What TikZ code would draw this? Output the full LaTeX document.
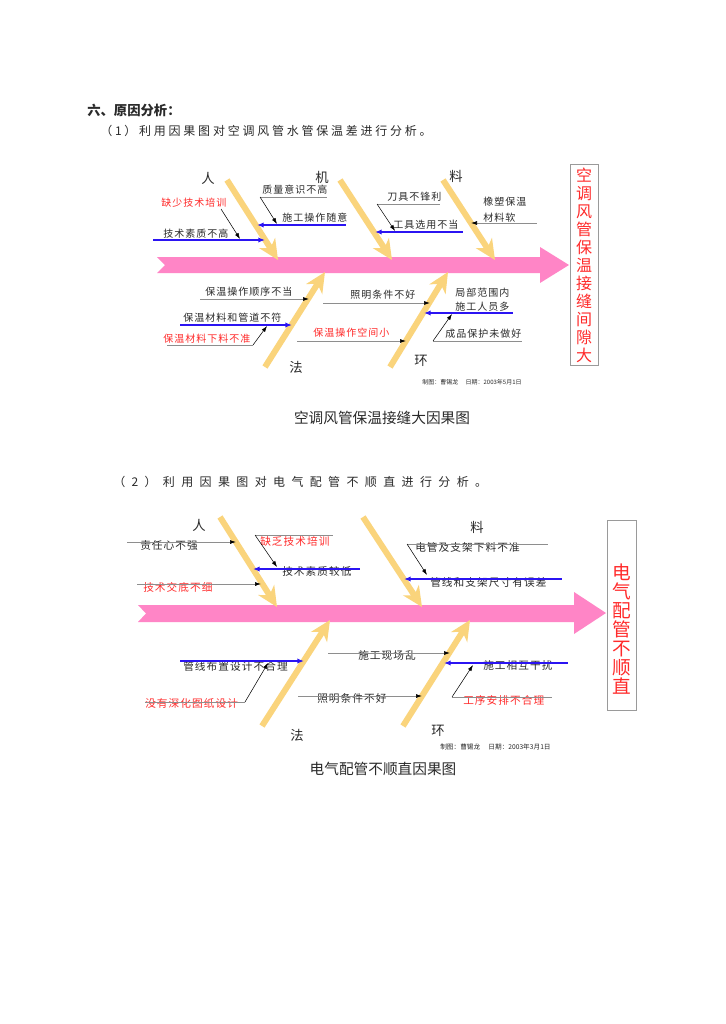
\documentclass[tikz,border=0pt]{standalone}
\usepackage{fontspec}
\newfontfamily\cjk{Noto Sans CJK SC}
\newfontfamily\cjkcause[LetterSpace=10]{Noto Sans CJK SC}
\newfontfamily\cjktask[LetterSpace=23]{Noto Sans CJK SC}
\newfontfamily\cjktaskb[LetterSpace=53]{Noto Sans CJK SC}
\usetikzlibrary{arrows.meta,positioning}
\definecolor{spinepink}{HTML}{FF85C6}
\definecolor{bonegold}{HTML}{FAD47C}
\definecolor{causeblue}{HTML}{2B14F2}
\definecolor{causered}{HTML}{FF2B2B}
\definecolor{ink}{HTML}{2A2A2A}
\definecolor{leadgray}{HTML}{8E8E8E}
\definecolor{boxgray}{HTML}{9A9A9A}
\tikzset{
  spine/.style={fill=spinepink, draw=none},
  bone/.style={
    draw=bonegold,
    line width=4.5pt,
    -{Stealth[length=15pt,width=14pt,inset=4.5pt]}
  },
  cat/.style={font=\cjk\fontsize{10}{12}\selectfont},
  cause/.style={anchor=west, font=\cjkcause\fontsize{7.5}{10}\selectfont},
  causeb/.style={anchor=west, font=\cjkcause\fontsize{8}{10}\selectfont},
  redcause/.style={text=causered},
  blueline/.style={
    draw=causeblue,
    line width=1.8pt,
    >={Latex[length=5pt,width=4pt]}
  },
  grayline/.style={
    draw=leadgray,
    line width=0.5pt,
    >={Latex[length=4.5pt,width=3pt,color=black]}
  },
  leader/.style={
    draw=black,
    line width=0.4pt,
    >={Latex[length=4.5pt,width=3pt]},
    ->
  },
  effect/.style={
    draw=boxgray,
    line width=0.6pt,
    inner sep=0pt
  },
  effecttext/.style={
    align=center,
    text=causered,
    inner sep=0pt
  },
  sig/.style={anchor=west, font=\cjk\fontsize{4.5}{5}\selectfont},
  caption/.style={font=\cjk\fontsize{11}{13}\selectfont}
}

\begin{document}
\begin{tikzpicture}[x=0.75pt, y=-0.75pt, every node/.style={text=ink, inner sep=0pt}]
\fill[white] (0,0) rectangle (725,1024);
\useasboundingbox (0,0) rectangle (725,1024);

% ---- Headings ----
\node[anchor=west, font=\cjk\bfseries\fontsize{10}{12}\selectfont] (title) at (87,110) {六、原因分析：};
\node[anchor=west, font=\cjktask\fontsize{9}{11}\selectfont] (task1) at (100,131)
  {（1）利用因果图对空调风管水管保温差进行分析。};

% ==== Diagram 1 ====
% spine
\fill[spine] (157,257) -- (540,257) -- (540,247) -- (569,265) -- (540,283)
  -- (540,273) -- (157,273) -- (165,265) -- cycle;

% bones
\coordinate (ren1s) at (227,180);  \coordinate (ren1e) at (278,260);
\coordinate (ji1s)  at (340,180);  \coordinate (ji1e)  at (392,260);
\coordinate (liao1s) at (443,180); \coordinate (liao1e) at (495,260);
\coordinate (fa1s)  at (265,367);  \coordinate (fa1e)  at (325,272);
\coordinate (huan1s) at (390,367); \coordinate (huan1e) at (448,272);
\draw[bone] (ren1s) -- (ren1e);
\draw[bone] (ji1s) -- (ji1e);
\draw[bone] (liao1s) -- (liao1e);
\draw[bone] (fa1s) -- (fa1e);
\draw[bone] (huan1s) -- (huan1e);

% categories
\node[cat] (ren1) at (208,178) {人};
\node[cat] (ji1) at (322,177) {机};
\node[cat] (liao1) at (456,176) {料};
\node[cat] (fa1) at (296,367) {法};
\node[cat] (huan1) at (421,361) {环};

% effect
\node[effect, minimum width=21pt, minimum height=150.75pt] (effect1) at (584,264.5) {};
\node[effecttext, font=\cjk\fontsize{12}{13.5}\selectfont]
  (effect1txt) at (584,265) {空\\调\\风\\管\\保\\温\\接\\缝\\间\\隙\\大};

% causes: 人
\node[cause, redcause] (a1) at (161,203) {缺少技术培训};
\node[cause] (a2) at (163,234) {技术素质不高};
\coordinate (a2s) at (153,240); \coordinate (a2e) at (265,240);
\draw[blueline, ->] (a2s) -- (a2e);
\coordinate (a1l) at (221,209); \coordinate (a1t) at (240,239);
\draw[leader] (a1l) -- (a1t);

\node[cause] (a3) at (262,190) {质量意识不高};
\coordinate (a3s) at (260,197); \coordinate (a3u) at (327,197);
\draw[grayline] (a3s) -- (a3u);
\node[cause] (a4) at (282,218) {施工操作随意};
\coordinate (a4s) at (257,225); \coordinate (a4e) at (346,225);
\draw[blueline, <-] (a4s) -- (a4e);
\coordinate (a3t) at (277,224);
\draw[leader] (a3s) -- (a3t);

% causes: 机
\node[cause] (b1) at (387,197) {刀具不锋利};
\coordinate (b1s) at (377,204); \coordinate (b1u) at (440,204);
\draw[grayline] (b1s) -- (b1u);
\node[cause] (b2) at (393,225) {工具选用不当};
\coordinate (b2s) at (375,232); \coordinate (b2e) at (463,232);
\draw[blueline, <-] (b2s) -- (b2e);
\coordinate (b1t) at (395,231);
\draw[leader] (b1s) -- (b1t);

% causes: 料
\node[cause, anchor=north west, align=left, font=\cjkcause\fontsize{7.5}{12}\selectfont]
  (c1) at (483,197) {橡塑保温\\材料软};
\coordinate (c1s) at (471,223); \coordinate (c1e) at (537,223);
\draw[grayline, <-] (c1s) -- (c1e);

% causes: 法
\node[cause] (d1) at (205,292) {保温操作顺序不当};
\coordinate (d1s) at (200,299); \coordinate (d1e) at (309,299);
\draw[grayline, ->] (d1s) -- (d1e);
\node[cause] (d2) at (183,318) {保温材料和管道不符};
\coordinate (d2s) at (180,325); \coordinate (d2e) at (292,325);
\draw[blueline, ->] (d2s) -- (d2e);
\node[cause, redcause] (d3) at (163,339) {保温材料下料不准};
\coordinate (d3s) at (167,345); \coordinate (d3u) at (253,345);
\coordinate (d3t) at (267,326);
\draw[grayline] (d3s) -- (d3u);
\draw[leader] (d3u) -- (d3t);

% causes: 环
\node[cause] (e1) at (350,295) {照明条件不好};
\coordinate (e1s) at (323,303); \coordinate (e1e) at (430,303);
\draw[grayline, ->] (e1s) -- (e1e);
\node[cause, redcause] (e2) at (313,333) {保温操作空间小};
\coordinate (e2s) at (297,341); \coordinate (e2e) at (406,341);
\draw[grayline, ->] (e2s) -- (e2e);
\node[cause, anchor=north west, align=left, font=\cjkcause\fontsize{7.5}{10}\selectfont]
  (e3) at (455,288) {局部范围内\\施工人员多};
\coordinate (e3s) at (424,313); \coordinate (e3e) at (513,313);
\draw[blueline, <-] (e3s) -- (e3e);
\node[cause] (e4) at (445,334) {成品保护未做好};
\coordinate (e4s) at (433,341); \coordinate (e4u) at (522,341);
\coordinate (e4t) at (452,314);
\draw[grayline] (e4s) -- (e4u);
\draw[leader] (e4s) -- (e4t);

\node[sig] (sig1) at (422,382) {制图：曹锡龙　 日期：2003年5月1日};
\node[caption] (cap1) at (382,418) {空调风管保温接缝大因果图};

% ==== Diagram 2 ====
\node[anchor=west, font=\cjktaskb\fontsize{9}{11}\selectfont] (task2) at (113,482)
  {（2）利用因果图对电气配管不顺直进行分析。};

% spine
\fill[spine] (138,605) -- (574,605) -- (574,592) -- (606,613) -- (574,634)
  -- (574,622) -- (138,622) -- (146,613.5) -- cycle;

% bones
\coordinate (ren2s) at (220,517);  \coordinate (ren2e) at (277,607);
\coordinate (liao2s) at (363,517); \coordinate (liao2e) at (422,607);
\coordinate (fa2s) at (262,726);   \coordinate (fa2e) at (330,620);
\coordinate (huan2s) at (403,726); \coordinate (huan2e) at (470,620);
\draw[bone] (ren2s) -- (ren2e);
\draw[bone] (liao2s) -- (liao2e);
\draw[bone] (fa2s) -- (fa2e);
\draw[bone] (huan2s) -- (huan2e);

\node[cat] (ren2) at (199,525) {人};
\node[cat] (liao2) at (477,527) {料};
\node[cat] (fa2) at (297,735) {法};
\node[cat] (huan2) at (438,731) {环};

\node[effect, minimum width=21.75pt, minimum height=142.5pt] (effect2) at (621.5,615) {};
\node[effecttext, font=\cjk\fontsize{14}{14.25}\selectfont]
  (effect2txt) at (621.5,629) {电\\气\\配\\管\\不\\顺\\直};

% causes: 人
\node[causeb] (f1) at (140,545) {责任心不强};
\coordinate (f1s) at (127,542); \coordinate (f1e) at (236,542);
\draw[grayline, ->] (f1s) -- (f1e);
\node[causeb, redcause] (f2) at (260,541) {缺乏技术培训};
\coordinate (f2s) at (255,535); \coordinate (f2u) at (333,535);
\coordinate (f2t) at (277,567);
\draw[grayline] (f2s) -- (f2u);
\draw[leader] (f2s) -- (f2t);
\node[causeb] (f3) at (282,571) {技术素质较低};
\coordinate (f3s) at (253,569); \coordinate (f3e) at (360,569);
\draw[blueline, <-] (f3s) -- (f3e);
\node[causeb, redcause] (f4) at (143,587) {技术交底不细};
\coordinate (f4s) at (137,584); \coordinate (f4e) at (261,584);
\draw[grayline, ->] (f4s) -- (f4e);

% causes: 料
\node[causeb] (g1) at (415,547) {电管及支架下料不准};
\coordinate (g1s) at (407,544); \coordinate (g1u) at (548,544);
\coordinate (g1t) at (427,575);
\draw[grayline] (g1s) -- (g1u);
\draw[leader] (g1s) -- (g1t);
\node[causeb] (g2) at (430,582) {管线和支架尺寸有误差};
\coordinate (g2s) at (404,579); \coordinate (g2e) at (562,579);
\draw[blueline, <-] (g2s) -- (g2e);

% causes: 法
\node[causeb] (h1) at (183,666) {管线布置设计不合理};
\coordinate (h1s) at (180,661); \coordinate (h1e) at (304,661);
\draw[blueline, ->] (h1s) -- (h1e);
\node[causeb, redcause] (h2) at (145,703) {没有深化图纸设计};
\coordinate (h2s) at (145,702); \coordinate (h2u) at (245,702);
\coordinate (h2t) at (268,663);
\draw[grayline] (h2s) -- (h2u);
\draw[leader] (h2u) -- (h2t);

% causes: 环
\node[causeb] (k1) at (358,655) {施工现场乱};
\coordinate (k1s) at (328,653); \coordinate (k1e) at (450,653);
\draw[grayline, ->] (k1s) -- (k1e);
\node[causeb] (k2) at (317,698) {照明条件不好};
\coordinate (k2s) at (298,696); \coordinate (k2e) at (422,696);
\draw[grayline, ->] (k2s) -- (k2e);
\node[causeb] (k3) at (483,665) {施工相互干扰};
\coordinate (k3s) at (444,663); \coordinate (k3e) at (568,663);
\draw[blueline, <-] (k3s) -- (k3e);
\node[causeb, redcause] (k4) at (463,700) {工序安排不合理};
\coordinate (k4s) at (452,697); \coordinate (k4u) at (552,697);
\coordinate (k4t) at (473,665);
\draw[grayline] (k4s) -- (k4u);
\draw[leader] (k4s) -- (k4t);

\node[sig, font=\cjk\fontsize{5}{6}\selectfont] (sig2) at (440,747) {制图：曹锡龙　 日期：2003年3月1日};
\node[caption] (cap2) at (383,769) {电气配管不顺直因果图};

\end{tikzpicture}
\end{document}
